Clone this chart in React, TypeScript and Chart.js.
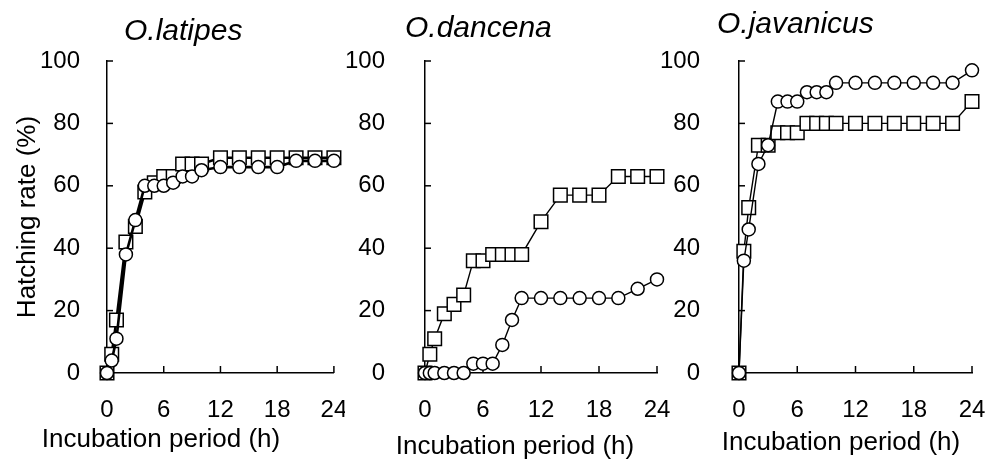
import React, { useEffect, useRef } from "react";
import { Chart, registerables } from "chart.js";

Chart.register(...registerables);

// ---- data ----
const hours = [0, 0.5, 1, 2, 3, 4, 5, 6, 7, 8, 9, 10, 12, 14, 16, 18, 20, 22, 24];
const xTicks = [0, 6, 12, 18, 24];
const yTicks = [0, 20, 40, 60, 80, 100];

const latipesSquare = [0, 6, 17, 42, 47, 58, 61, 63, 63, 67, 67, 67, 69, 69, 69, 69, 69, 69, 69];
const latipesCircle = [0, 4, 11, 38, 49, 60, 60, 60, 61, 63, 63, 65, 66, 66, 66, 66, 68, 68, 68];

const dancenaSquare = [0, 6, 11, 19, 22, 25, 36, 36, 38, 38, 38, 38, 48.5, 57, 57, 57, 63, 63, 63];
const dancenaCircle = [0, 0, 0, 0, 0, 0, 3, 3, 3, 9, 17, 24, 24, 24, 24, 24, 24, 27, 30];

const javanicusSquare = [0, 39, 53, 73, 73, 77, 77, 77, 80, 80, 80, 80, 80, 80, 80, 80, 80, 80, 87];
const javanicusCircle = [0, 36, 46, 67, 73, 87, 87, 87, 90, 90, 90, 93, 93, 93, 93, 93, 93, 93, 97];

const species = ["O.latipes", "O.dancena", "O.javanicus"];
const xTitle = "Incubation period (h)";
const yTitle = "Hatching rate (%)";

const FONT = "'Liberation Sans', Arial, Helvetica, sans-serif";

const decorPlugin = {
  id: "decor",
  beforeDatasetsDraw(chart: any) {
    const ctx = chart.ctx;
    const xs = chart.scales.x;
    const ys = chart.scales.y;
    ctx.save();
    ctx.strokeStyle = "#000";
    ctx.lineWidth = 1.5;
    ys.ticks.forEach((t: any) => {
      const py = ys.getPixelForValue(t.value);
      ctx.beginPath();
      ctx.moveTo(xs.left, py);
      ctx.lineTo(xs.left + 6, py);
      ctx.stroke();
    });
    xs.ticks.forEach((t: any) => {
      const px = xs.getPixelForValue(t.value);
      ctx.beginPath();
      ctx.moveTo(px, ys.bottom);
      ctx.lineTo(px, ys.bottom - 7);
      ctx.stroke();
    });
    ctx.restore();
  },
  afterDraw(chart: any, _args: any, opts: any) {
    const ctx = chart.ctx;
    ctx.save();
    ctx.fillStyle = "#000";
    ctx.font = `italic 30px ${FONT}`;
    ctx.textAlign = "left";
    ctx.textBaseline = "alphabetic";
    ctx.fillText(opts.title, opts.titleX, opts.titleY);
    ctx.font = `26px ${FONT}`;
    ctx.textAlign = "center";
    ctx.textBaseline = "middle";
    ctx.fillText(opts.xTitle, opts.xTitleX, opts.xTitleY);
    ctx.restore();
  },
};

type PanelProps = {
  left: number;
  width: number;
  axisWidth: number;
  padRight: number;
  labelPad: number;
  title: string;
  titleX: number;
  titleY: number;
  xTitleX: number;
  xTitleY: number;
  lineWidth: number;
  squares: number[];
  circles: number[];
  showYTitle: boolean;
};

function Panel(p: PanelProps) {
  const ref = useRef<HTMLCanvasElement | null>(null);
  useEffect(() => {
    if (!ref.current) return;
    const toPts = (vals: number[]) => hours.map((h, i) => ({ x: h, y: vals[i] }));
    const common = {
      borderColor: "#000",
      backgroundColor: "#fff",
      pointBackgroundColor: "#fff",
      pointBorderColor: "#000",
      pointBorderWidth: 1.5,
      borderWidth: p.lineWidth,
      tension: 0,
      clip: false as any,
    };
    const chart = new Chart(ref.current, {
      type: "line",
      data: {
        datasets: [
          {
            ...common,
            label: "circle",
            data: toPts(p.circles),
            pointStyle: "circle",
            pointRadius: 6.5,
          },
          {
            ...common,
            label: "square",
            data: toPts(p.squares),
            pointStyle: "rect",
            pointRadius: 9.6,
          },
        ],
      },
      options: {
        animation: false,
        responsive: false,
        devicePixelRatio: 1,
        layout: { padding: { top: 61, right: p.padRight, left: 0, bottom: 0 } },
        plugins: {
          legend: { display: false },
          tooltip: { enabled: false },
          decor: {
            title: p.title,
            titleX: p.titleX,
            titleY: p.titleY,
            xTitle: xTitle,
            xTitleX: p.xTitleX,
            xTitleY: p.xTitleY,
          },
        } as any,
        scales: {
          x: {
            type: "linear",
            min: 0,
            max: 24,
            afterBuildTicks: (s: any) => {
              s.ticks = xTicks.map((v) => ({ value: v }));
            },
            afterFit: (s: any) => {
              s.height = 89;
              s.paddingLeft = 0;
              s.paddingRight = 0;
            },
            grid: { display: false, drawTicks: false },
            border: { display: true, color: "#000", width: 1.5 },
            ticks: {
              color: "#000",
              padding: 23,
              font: { family: FONT, size: 24 },
              maxRotation: 0,
            },
          },
          y: {
            type: "linear",
            min: 0,
            max: 100,
            afterBuildTicks: (s: any) => {
              s.ticks = yTicks.map((v) => ({ value: v }));
            },
            afterFit: (s: any) => {
              s.width = p.axisWidth;
              s.paddingTop = 0;
              s.paddingBottom = 0;
            },
            grid: { display: false, drawTicks: false },
            border: { display: true, color: "#000", width: 1.5 },
            ticks: {
              color: "#000",
              padding: p.labelPad,
              font: { family: FONT, size: 24 },
            },
            title: {
              display: p.showYTitle,
              text: yTitle,
              color: "#000",
              font: { family: FONT, size: 26 },
              padding: { top: 12, bottom: 0 },
            },
          },
        },
      },
      plugins: [decorPlugin as any],
    });
    return () => chart.destroy();
  }, []);
  return (
    <canvas
      ref={ref}
      width={p.width}
      height={462}
      style={{ position: "absolute", left: p.left, top: 0, width: p.width, height: 462 }}
    />
  );
}

export default function App() {
  return (
    <div
      style={{
        position: "absolute",
        left: 0,
        top: 0,
        width: 988,
        height: 462,
        background: "#fff",
        overflow: "hidden",
      }}
    >
      <Panel
        left={0}
        width={345}
        axisWidth={107}
        padRight={9}
        labelPad={27}
        title={species[0]}
        titleX={124}
        titleY={40}
        xTitleX={161}
        xTitleY={440}
        lineWidth={2.6}
        squares={latipesSquare}
        circles={latipesCircle}
        showYTitle={true}
      />
      <Panel
        left={335}
        width={335}
        axisWidth={90}
        padRight={13}
        labelPad={40}
        title={species[1]}
        titleX={405 - 335}
        titleY={37}
        xTitleX={515 - 335}
        xTitleY={447}
        lineWidth={1.4}
        squares={dancenaSquare}
        circles={dancenaCircle}
        showYTitle={false}
      />
      <Panel
        left={650}
        width={338}
        axisWidth={89}
        padRight={16}
        labelPad={39}
        title={species[2]}
        titleX={717 - 650}
        titleY={33}
        xTitleX={841 - 650}
        xTitleY={443}
        lineWidth={1.4}
        squares={javanicusSquare}
        circles={javanicusCircle}
        showYTitle={false}
      />
    </div>
  );
}
